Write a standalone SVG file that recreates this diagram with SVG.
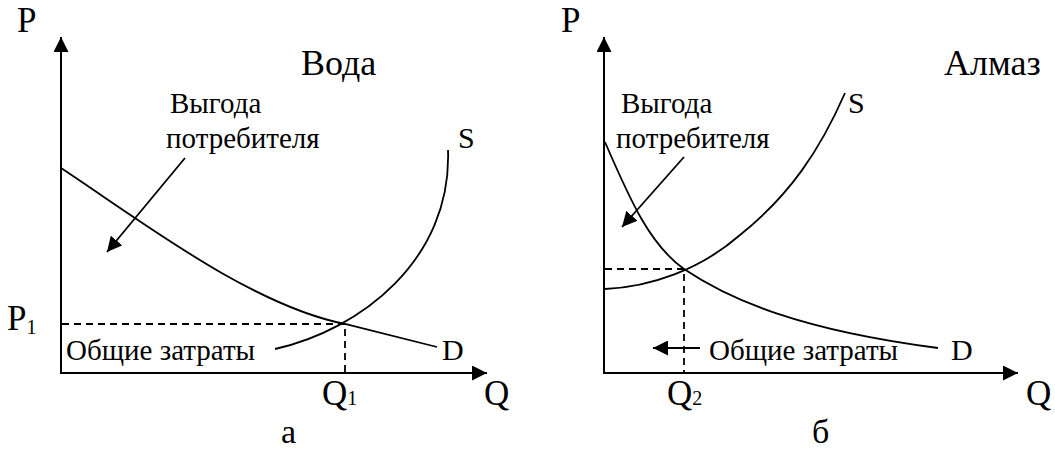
<svg xmlns="http://www.w3.org/2000/svg" width="1055" height="452" viewBox="0 0 1055 452">
<style>
text{font-family:'Liberation Serif','Times New Roman',serif;fill:#000}
.ax{font-size:35px}
.ti{font-size:36px}
.lt{font-size:34px}
.lb{font-size:29px}
.sd{font-size:30px}
.ln{fill:none;stroke:#000;stroke-width:2}
.cv{fill:none;stroke:#000;stroke-width:1.8}
.ds{fill:none;stroke:#000;stroke-width:1.8;stroke-dasharray:7 5}
</style>
<defs>
<marker id="big" viewBox="0 0 10 10" refX="10" refY="5" markerWidth="15" markerHeight="15" markerUnits="userSpaceOnUse" orient="auto">
<path d="M0,0 L10,5 L0,10 z" fill="#000"/>
</marker>
</defs>
<g id="chart-a">
<g id="axes-a">
<path class="ln" d="M61,373 V37" marker-end="url(#big)"/>
<path class="ln" d="M60,373 H487" marker-end="url(#big)"/>
<text class="ax" x="17" y="32">P</text>
<text class="ax" x="484" y="405">Q</text>
<text class="ax" x="7" y="330">P<tspan font-size="20" dy="4">1</tspan></text>
<text class="ax" x="322" y="405">Q<tspan font-size="20">1</tspan></text>
<text class="lt" x="281" y="443">а</text>
</g>
<g id="title-a"><text class="ti" x="301" y="75">Вода</text></g>
<g id="curves-a">
<path class="ds" d="M62,324 H345 V372"/>
<path class="cv" d="M61,168 C140,220 250,305 345,324 L437,347"/>
<path class="cv" d="M275,349 C360,330 452,260 448,150"/>
<text class="sd" x="458" y="148">S</text>
<text class="sd" x="442" y="360">D</text>
</g>
<g id="labels-a">
<text class="lb" x="170" y="113">Выгода</text>
<text class="lb" x="166" y="148">потребителя</text>
<path class="cv" d="M185,158 L107,252" marker-end="url(#big)"/>
<text class="lb" x="66" y="360">Общие затраты</text>
</g>
</g>
<g id="chart-b">
<g id="axes-b">
<path class="ln" d="M604,373 V37" marker-end="url(#big)"/>
<path class="ln" d="M603,373 H1018" marker-end="url(#big)"/>
<text class="ax" x="561" y="32">P</text>
<text class="ax" x="1026" y="405">Q</text>
<text class="ax" x="667" y="405">Q<tspan font-size="20">2</tspan></text>
<text class="lt" x="812" y="443">б</text>
</g>
<g id="title-b"><text class="ti" x="944" y="75">Алмаз</text></g>
<g id="curves-b">
<path class="ds" d="M605,269 H684 V372"/>
<path class="cv" d="M605,142 C630,200 650,245 684,269 C730,300 800,330 938,348"/>
<path class="cv" d="M605,289 C650,287 700,270 740,235 C790,195 820,150 845,93"/>
<text class="sd" x="848" y="113">S</text>
<text class="sd" x="951" y="360">D</text>
</g>
<g id="labels-b">
<text class="lb" x="621" y="113">Выгода</text>
<text class="lb" x="616" y="148">потребителя</text>
<path class="cv" d="M684,157 L622,227" marker-end="url(#big)"/>
<path class="cv" d="M700,348 L653,348" marker-end="url(#big)"/>
<text class="lb" x="709" y="360">Общие затраты</text>
</g>
</g>
</svg>
